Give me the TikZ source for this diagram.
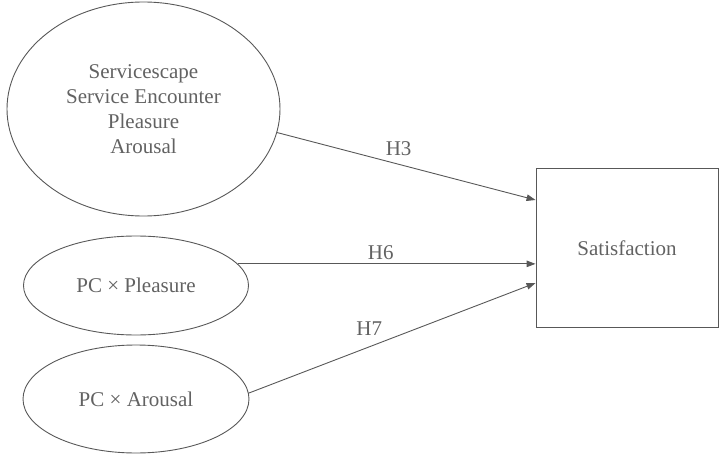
\documentclass[tikz,border=0pt]{standalone}
\usepackage{fontspec}
\setmainfont{Liberation Serif}
\usetikzlibrary{arrows.meta, positioning, calc, shapes.geometric}
\definecolor{lineGrey}{RGB}{88,88,88}
\definecolor{textGrey}{RGB}{98,98,98}

\begin{document}
\begin{tikzpicture}[x=1pt, y=-1pt,
  latent/.style={ellipse, draw=lineGrey, line width=0.9pt, inner sep=0pt,
    text=textGrey, align=center, font=\fontsize{21}{25}\selectfont},
  outcome/.style={rectangle, draw=lineGrey, line width=0.9pt, inner sep=0pt,
    text=textGrey, font=\fontsize{21}{25}\selectfont},
  hyp/.style={-{Triangle[length=9pt, width=6.5pt]}, draw=lineGrey, line width=0.9pt},
  hlabel/.style={text=textGrey, font=\fontsize{21}{25}\selectfont}
]
\useasboundingbox (0,0) rectangle (719,454);

% constructs
\node[latent, minimum width=273pt, minimum height=214pt] (serv) at (143.5,109) {
  Servicescape\\
  Service Encounter\\
  Pleasure\\
  Arousal
};
\node[latent, minimum width=225pt, minimum height=99pt] (pcp) at (136,285.5) {PC × Pleasure};
\node[latent, minimum width=226pt, minimum height=108pt] (pca) at (136,399) {PC × Arousal};
\node[outcome, minimum width=182pt, minimum height=159pt] (sat) at (627,248) {Satisfaction};

% hypotheses
\draw[hyp] (serv.-10) -- ([yshift=48pt]sat.west) node[hlabel, pos=.47, above=5pt] {H3};
\draw[hyp] (pcp.12) -- (pcp.12 -| sat.west) node[hlabel, pos=.48, above] {H6};
\draw[hyp] (pca.3) -- ([yshift=-35pt]sat.west) node[hlabel, pos=.42, above=8pt] {H7};
\end{tikzpicture}
\end{document}
